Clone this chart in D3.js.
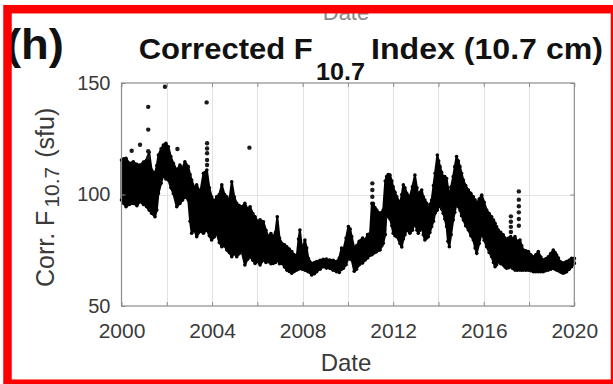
<!DOCTYPE html>
<html>
<head>
<meta charset="utf-8">
<script src="https://cdn.jsdelivr.net/npm/d3@7"></script>
<style>
  html, body { margin: 0; padding: 0; background: #fff; }
  svg { display: block; }
</style>
</head>
<body>
<svg id="chart" width="613" height="384"></svg>
<script>
// Daily corrected F10.7 flux, summarised as the spread (low/high) of the daily points
const bandYear = [
  2000.00, 2000.10, 2000.20, 2000.35, 2000.52, 2000.68, 2000.82, 2000.97, 2001.11, 2001.22,
  2001.33, 2001.48, 2001.56, 2001.63, 2001.75, 2001.85, 2001.96, 2002.07, 2002.18, 2002.29,
  2002.44, 2002.58, 2002.70, 2002.80, 2002.95, 2003.03, 2003.10, 2003.22, 2003.32, 2003.48,
  2003.62, 2003.77, 2003.88, 2003.98, 2004.10, 2004.20, 2004.32, 2004.43, 2004.55, 2004.65,
  2004.76, 2004.87, 2004.98, 2005.09, 2005.20, 2005.31, 2005.45, 2005.57, 2005.68, 2005.80,
  2005.90, 2006.01, 2006.12, 2006.27, 2006.38, 2006.48, 2006.60, 2006.70, 2006.80, 2006.88,
  2006.98, 2007.08, 2007.20, 2007.30, 2007.41, 2007.52, 2007.63, 2007.74, 2007.82, 2007.88,
  2007.98, 2008.10, 2008.18, 2008.25, 2008.40, 2008.52, 2008.62, 2008.77, 2008.91, 2009.05,
  2009.20, 2009.35, 2009.50, 2009.62, 2009.72, 2009.80, 2009.92, 2010.02, 2010.10, 2010.17,
  2010.28, 2010.38, 2010.50, 2010.65, 2010.76, 2010.87, 2010.98, 2011.06, 2011.12, 2011.20,
  2011.27, 2011.42, 2011.50, 2011.56, 2011.65, 2011.71, 2011.78, 2011.86, 2011.94, 2012.00,
  2012.08, 2012.16, 2012.30, 2012.38, 2012.45, 2012.52, 2012.60, 2012.74, 2012.85, 2012.96,
  2013.05, 2013.11, 2013.18, 2013.26, 2013.33, 2013.40, 2013.48, 2013.55, 2013.62, 2013.70,
  2013.78, 2013.85, 2013.95, 2014.01, 2014.07, 2014.14, 2014.21, 2014.28, 2014.36, 2014.42,
  2014.48, 2014.56, 2014.65, 2014.72, 2014.80, 2014.88, 2014.95, 2015.02, 2015.10, 2015.20,
  2015.32, 2015.43, 2015.54, 2015.62, 2015.69, 2015.80, 2015.91, 2016.02, 2016.13, 2016.24,
  2016.35, 2016.43, 2016.50, 2016.57, 2016.64, 2016.75, 2016.86, 2016.94, 2017.01, 2017.10,
  2017.19, 2017.28, 2017.38, 2017.48, 2017.60, 2017.68, 2017.75, 2017.86, 2017.97, 2018.08,
  2018.19, 2018.30, 2018.41, 2018.52, 2018.63, 2018.74, 2018.85, 2018.96, 2019.07, 2019.15,
  2019.22, 2019.30, 2019.37, 2019.44, 2019.51, 2019.58, 2019.66, 2019.77, 2019.88, 2020.00
];
const bandLow = [
  97.5, 96.0, 94.5, 95.5, 96.0, 95.0, 96.8, 95.5, 94.5, 93.0,
  91.6, 90.0, 93.0, 100.5, 105.0, 108.7, 107.0, 106.5, 103.0, 100.5,
  94.5, 96.0, 97.5, 99.0, 97.5, 88.0, 82.6, 84.0, 81.1, 83.5,
  82.6, 84.1, 81.5, 79.6, 81.0, 82.6, 78.5, 76.6, 77.0, 75.1,
  74.0, 72.1, 73.5, 72.1, 73.5, 74.4, 68.4, 71.0, 72.1, 70.5,
  69.1, 70.0, 68.4, 70.6, 69.5, 69.9, 69.0, 69.1, 69.5, 70.6,
  69.0, 69.1, 67.5, 66.1, 65.5, 64.7, 65.5, 66.1, 66.5, 66.9,
  66.5, 66.1, 65.8, 65.4, 63.9, 64.5, 65.4, 66.5, 67.6, 67.0,
  66.9, 66.0, 65.4, 65.0, 66.5, 66.9, 68.5, 71.5, 71.0, 70.6,
  65.6, 66.5, 68.5, 69.3, 70.6, 71.5, 72.8, 73.0, 73.6, 74.0,
  74.4, 75.1, 77.0, 78.1, 82.0, 93.0, 90.0, 89.0, 86.0, 82.6,
  81.5, 81.1, 78.0, 76.5, 80.0, 82.0, 84.1, 82.6, 84.0, 87.1,
  84.0, 82.6, 84.0, 85.6, 82.0, 79.6, 80.5, 81.1, 83.0, 85.6,
  88.0, 91.6, 93.0, 94.5, 96.0, 93.5, 91.6, 89.0, 85.6, 79.0,
  76.6, 82.0, 88.6, 92.0, 96.0, 94.5, 93.0, 90.5, 88.6, 86.0,
  84.1, 81.5, 79.6, 76.0, 73.6, 78.0, 82.6, 79.5, 76.6, 74.0,
  72.1, 69.5, 67.6, 68.5, 69.9, 69.0, 68.4, 67.5, 66.9, 67.2,
  67.6, 66.8, 66.1, 66.0, 66.1, 66.1, 66.1, 66.0, 66.1, 65.8,
  65.4, 65.4, 65.4, 65.4, 65.4, 65.8, 66.1, 66.5, 66.9, 66.5,
  66.1, 65.8, 65.4, 65.0, 64.7, 65.0, 65.4, 66.5, 67.6, 69.1
];
const bandHigh = [
  115.5, 116.0, 116.2, 114.0, 114.7, 113.5, 113.2, 114.5, 115.5, 119.0,
  111.0, 109.5, 113.0, 117.7, 120.5, 122.2, 123.0, 121.4, 117.0, 114.0,
  111.0, 113.2, 112.0, 114.7, 112.5, 109.0, 106.5, 103.0, 104.3, 101.0,
  109.5, 111.0, 103.0, 99.0, 97.0, 99.0, 100.0, 104.3, 100.0, 99.0,
  97.0, 105.7, 99.0, 96.0, 95.0, 94.5, 96.0, 93.5, 94.5, 91.5,
  90.0, 88.0, 88.6, 87.8, 84.0, 81.1, 82.5, 81.1, 83.0, 90.0,
  80.5, 78.1, 77.5, 76.6, 75.5, 74.4, 73.0, 72.1, 80.0, 84.1,
  75.0, 79.6, 76.0, 71.4, 69.1, 69.5, 69.9, 70.5, 70.9, 71.0,
  70.6, 70.5, 69.9, 71.5, 76.0, 75.1, 80.5, 85.6, 84.5, 81.1,
  76.0, 77.0, 79.0, 80.5, 79.6, 82.0, 82.6, 96.0, 96.0, 94.0,
  93.0, 91.6, 92.0, 93.0, 106.0, 108.0, 109.0, 108.7, 106.0, 103.5,
  101.0, 99.0, 96.0, 100.0, 104.3, 103.0, 100.5, 99.0, 103.5, 108.7,
  103.0, 99.0, 101.0, 102.0, 99.0, 97.5, 96.0, 93.0, 95.5, 97.5,
  104.0, 109.5, 117.7, 115.0, 112.5, 110.0, 108.0, 108.0, 107.2, 103.0,
  99.0, 103.5, 108.0, 112.5, 117.0, 115.0, 112.5, 109.5, 106.5, 104.0,
  102.0, 100.5, 99.0, 97.5, 96.0, 98.0, 99.7, 96.5, 93.0, 91.5,
  90.0, 88.5, 87.1, 85.5, 84.1, 83.0, 81.9, 80.5, 79.6, 80.5,
  81.1, 80.0, 81.1, 79.0, 79.6, 77.0, 75.1, 74.8, 74.4, 73.0,
  72.1, 73.0, 74.4, 72.0, 70.6, 71.2, 72.1, 73.5, 75.1, 74.0,
  72.9, 71.5, 69.9, 69.5, 69.1, 69.5, 69.9, 70.5, 71.4, 71.4
];

// Isolated daily values standing above the main band
const spikeYear = [
  2000.45, 2000.82, 2001.18, 2001.18, 2001.18, 2001.18, 2001.92, 2002.47,
  2003.76, 2003.78, 2003.78, 2003.78, 2003.78, 2003.78, 2005.65,
  2011.08, 2011.08, 2011.08,
  2017.20, 2017.20, 2017.20, 2017.20,
  2017.55, 2017.55, 2017.55, 2017.55, 2017.55, 2017.55
];
const spikeValue = [
  119.6, 122.3, 139.3, 129.1, 119.4, 116.5, 148.3, 120.4,
  141.3, 123.0, 120.6, 118.5, 115.5, 113.2, 121.0,
  105.0, 102.0, 99.0,
  90.2, 87.8, 85.5, 83.2,
  101.4, 97.7, 94.7, 92.0, 89.0, 86.0
];

const xTickYears = [2000, 2002, 2004, 2006, 2008, 2010, 2012, 2014, 2016, 2018, 2020];
const xLabelYears = [2000, 2004, 2008, 2012, 2016, 2020];
const yTicks = [50, 100, 150];
const yGrid = [100];

const FONT = "'Liberation Sans', Arial, Helvetica, sans-serif";
const svg = d3.select("#chart").style("font-family", FONT);

svg.append("rect").attr("width", 613).attr("height", 384).attr("fill", "#fff");

// Axis label of the panel above, partly hidden under the frame
svg.append("text")
  .attr("x", 346).attr("y", 20)
  .attr("text-anchor", "middle")
  .attr("font-size", 22)
  .attr("fill", "#8a8a8a")
  .text("Date");

const plot = { left: 121.5, right: 574.3, top: 83, bottom: 306 };
const x = d3.scaleLinear().domain([2000, 2020]).range([plot.left, plot.right]);
const y = d3.scaleLinear().domain([50, 150]).range([plot.bottom, plot.top]);

// Grid
const grid = svg.append("g").attr("stroke", "#e2e2e2").attr("stroke-width", 1);
grid.selectAll("line.v").data(xTickYears.slice(1, -1)).join("line")
  .attr("class", "v")
  .attr("x1", d => Math.round(x(d)) + 0.5).attr("x2", d => Math.round(x(d)) + 0.5)
  .attr("y1", plot.top).attr("y2", plot.bottom);
grid.selectAll("line.h").data(yGrid).join("line")
  .attr("class", "h")
  .attr("x1", plot.left).attr("x2", plot.right)
  .attr("y1", d => Math.round(y(d)) + 0.5).attr("y2", d => Math.round(y(d)) + 0.5);

// Band of daily points
const idx = d3.range(bandYear.length);
const area = d3.area()
  .x(i => x(bandYear[i]))
  .y0(i => y(bandLow[i]))
  .y1(i => y(bandHigh[i]));
svg.append("path")
  .datum(idx)
  .attr("d", area)
  .attr("fill", "#000")
  .attr("stroke", "#000")
  .attr("stroke-width", 2)
  .attr("stroke-linejoin", "round");

const dots = svg.append("g").attr("fill", "#000");
dots.selectAll("circle.hi").data(idx).join("circle")
  .attr("class", "hi")
  .attr("cx", i => x(bandYear[i])).attr("cy", i => y(bandHigh[i])).attr("r", 1.8);
dots.selectAll("circle.lo").data(idx).join("circle")
  .attr("class", "lo")
  .attr("cx", i => x(bandYear[i])).attr("cy", i => y(bandLow[i])).attr("r", 1.8);

svg.append("g").attr("fill", "#1a1a1a")
  .selectAll("circle").data(d3.range(spikeYear.length)).join("circle")
  .attr("cx", i => x(spikeYear[i])).attr("cy", i => y(spikeValue[i])).attr("r", 2.2);

// Axes (ticks pointing inward, box around the plot)
const tickColor = "#8c8c8c";
const labelColor = "#3a3a3a";

const xAxis = d3.axisBottom(x)
  .tickValues(xTickYears)
  .tickSize(-4)
  .tickPadding(17)
  .tickFormat(d => xLabelYears.includes(d) ? String(d) : "");
const gx = svg.append("g").attr("transform", `translate(0,${plot.bottom})`).call(xAxis);

const xAxisTop = d3.axisTop(x).tickValues(xTickYears).tickSize(-4).tickFormat("");
const gxt = svg.append("g").attr("transform", `translate(0,${plot.top})`).call(xAxisTop);

const yAxis = d3.axisLeft(y).tickValues(yTicks).tickSize(-4).tickPadding(11);
const gy = svg.append("g").attr("transform", `translate(${plot.left},0)`).call(yAxis);

const yAxisRight = d3.axisRight(y).tickValues(yTicks).tickSize(-4).tickFormat("");
const gyr = svg.append("g").attr("transform", `translate(${plot.right},0)`).call(yAxisRight);

[gx, gxt, gy, gyr].forEach(g => {
  g.select(".domain").remove();
  g.selectAll(".tick line").attr("stroke", tickColor);
  g.selectAll(".tick text")
    .attr("font-family", FONT)
    .attr("font-size", 20)
    .attr("fill", labelColor);
});
gx.selectAll(".tick text").attr("font-size", 21);

svg.append("rect")
  .attr("x", plot.left).attr("y", plot.top)
  .attr("width", plot.right - plot.left).attr("height", plot.bottom - plot.top)
  .attr("fill", "none").attr("stroke", tickColor).attr("stroke-width", 1.2);

// Axis titles
svg.append("text")
  .attr("x", 346).attr("y", 371)
  .attr("text-anchor", "middle")
  .attr("font-size", 24)
  .attr("fill", labelColor)
  .text("Date");

const yl = svg.append("text")
  .attr("transform", "translate(54,287) rotate(-90)")
  .attr("font-size", 25)
  .attr("fill", labelColor);
yl.append("tspan").text("Corr. F");
yl.append("tspan").attr("font-size", 21).attr("dy", 5).attr("dx", 3).text("10.7");
yl.append("tspan").attr("dy", -5).attr("dx", 2).text(" (sfu)");

// Panel letter and title
svg.append("text")
  .attr("x", 6).attr("y", 59)
  .attr("font-size", 42).attr("font-weight", "bold").attr("fill", "#111")
  .attr("textLength", 58).attr("lengthAdjust", "spacingAndGlyphs")
  .text("(h)");

const titleParts = [
  { text: "Corrected F",      x: 138.7, y: 58.6, size: 30, len: 174 },
  { text: "10.7",             x: 316,   y: 80,   size: 24, len: 49 },
  { text: "Index (10.7 cm)",  x: 371,   y: 58.6, size: 30, len: 232 }
];
svg.append("g").attr("font-weight", "bold").attr("fill", "#111")
  .selectAll("text").data(titleParts).join("text")
  .attr("x", d => d.x).attr("y", d => d.y)
  .attr("font-size", d => d.size)
  .attr("textLength", d => d.len).attr("lengthAdjust", "spacingAndGlyphs")
  .text(d => d.text);

// Red frame
svg.append("rect")
  .attr("x", 7.5).attr("y", 9.2)
  .attr("width", 607.5).attr("height", 374.5)
  .attr("fill", "none").attr("stroke", "#ff0000").attr("stroke-width", 8.5);
</script>
</body>
</html>
